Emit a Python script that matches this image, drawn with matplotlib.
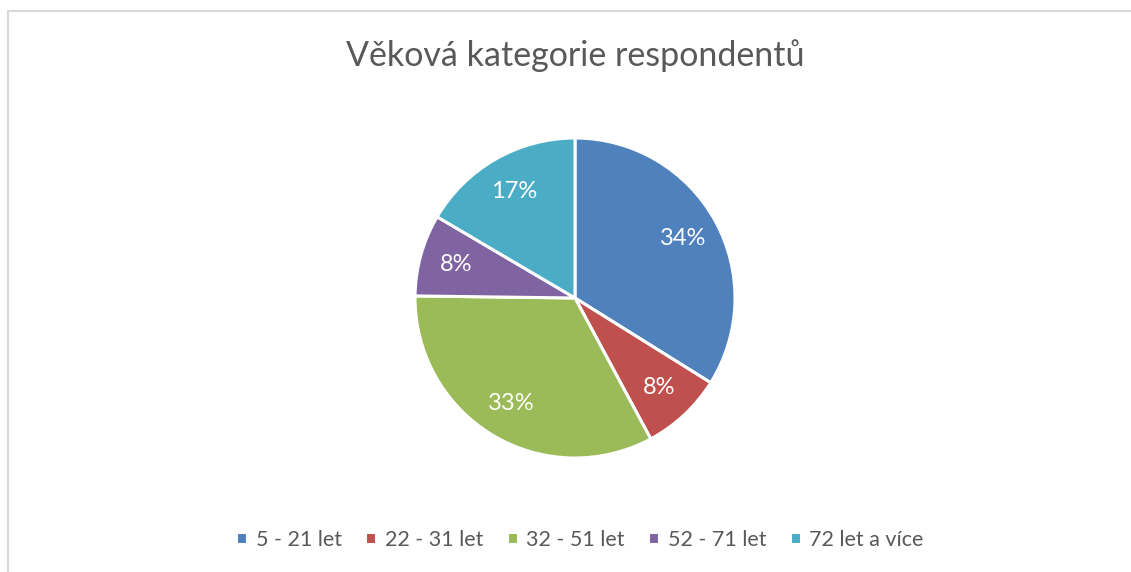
import matplotlib
matplotlib.use("Agg")
import matplotlib.pyplot as plt
from matplotlib.patches import Rectangle

# data - counts of respondents per age group
categories = ["5 - 21 let", "22 - 31 let", "32 - 51 let", "52 - 71 let", "72 let a více"]
counts = [41, 10, 40, 10, 20]
colors = ["#4F81BD", "#C0504D", "#9BBB59", "#8064A2", "#4BACC6"]

plt.rcParams["font.family"] = ["Lato", "DejaVu Sans"]
text_color = "#595959"

W, H = 1131, 572
fig = plt.figure(figsize=(W / 100, H / 100), dpi=100)

# light gray chart border (only top and left visible)
fig.add_artist(Rectangle((8 / W, -0.1), 1.2, (H - 11) / H + 0.1, transform=fig.transFigure,
                         fill=False, edgecolor="#D9D9D9", linewidth=1.5))

cx, cy, r = 575, 298, 160
ax = fig.add_axes([(cx - r) / W, (H - cy - r) / H, 2 * r / W, 2 * r / H])
wedges, texts, autotexts = ax.pie(counts, colors=colors, startangle=90, counterclock=False,
                                  autopct=lambda p: "%.0f%%" % p, pctdistance=0.77,
                                  wedgeprops={"edgecolor": "white", "linewidth": 2.2},
                                  textprops={"color": "white", "fontsize": 17})
ax.set_xlim(-1, 1)
ax.set_ylim(-1, 1)
ax.set_aspect("equal")

fig.text(575 / W, 1 - 56 / H, "Věková kategorie respondentů", ha="center", va="center",
         fontsize=24.5, color=text_color)

fig.legend(wedges, categories, loc="center", bbox_to_anchor=(580 / W, 1 - 540 / H), ncol=5,
           frameon=False, fontsize=15.5, labelcolor=text_color, handlelength=0.5, handleheight=0.5,
           handletextpad=0.4, columnspacing=1.1)

fig.savefig("out.png", dpi=100)
